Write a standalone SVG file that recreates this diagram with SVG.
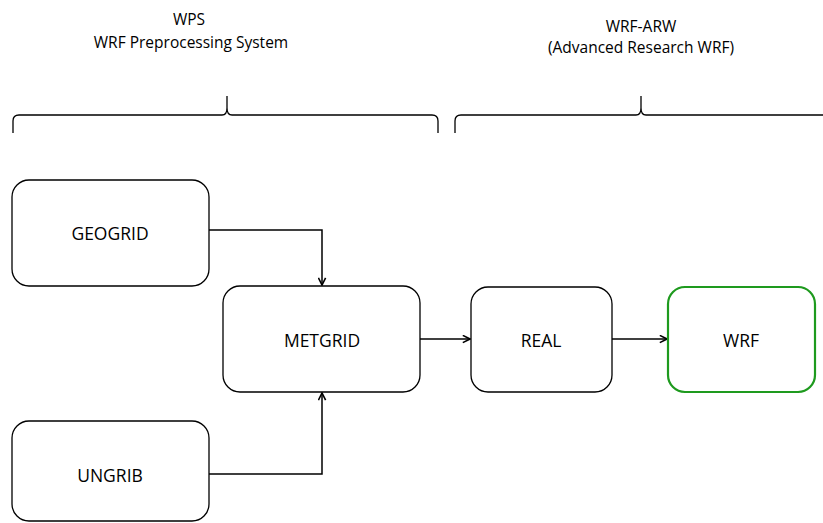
<svg xmlns="http://www.w3.org/2000/svg" width="823" height="523" viewBox="0 0 823 523">
<style>
.box{fill:#fff;stroke:#000;stroke-width:1.3}
.green{fill:#fff;stroke:#1e9a1e;stroke-width:2.2}
.lbl{font-family:"Open Sans","Liberation Sans",sans-serif;font-size:17.5px;fill:#000;text-anchor:middle;dominant-baseline:central}
.hdr{font-family:"Open Sans","Liberation Sans",sans-serif;font-size:15.5px;fill:#000;text-anchor:middle}
.line{fill:none;stroke:#000;stroke-width:1.5}
.brace{fill:none;stroke:#000;stroke-width:1.3}
</style>
<defs>
<marker id="arr" viewBox="0 0 10 10" refX="9" refY="5" markerWidth="9" markerHeight="9" markerUnits="userSpaceOnUse" orient="auto">
<path d="M1,1 L9,5 L1,9" fill="none" stroke="#000" stroke-width="1.8"/>
</marker>
</defs>
<g id="headers">
<text class="hdr" x="189" y="25">WPS</text>
<text class="hdr" x="191" y="48">WRF Preprocessing System</text>
<text class="hdr" x="641" y="32">WRF-ARW</text>
<text class="hdr" x="641" y="53">(Advanced Research WRF)</text>
</g>
<g id="braces">
<path class="brace" d="M13,133 L13,121 Q13,115 19,115 L222,115 Q227,115 227,108 L227,96 M227,108 Q227,115 232,115 L432,115 Q438,115 438,121 L438,133"/>
<path class="brace" d="M455,133 L455,121 Q455,115 461,115 L636,115 Q641,115 641,108 L641,96 M641,108 Q641,115 646,115 L823,115"/>
</g>
<g id="connectors">
<path class="line" d="M209,230 L322,230 L322,285" marker-end="url(#arr)"/>
<path class="line" d="M209,474 L322,474 L322,393" marker-end="url(#arr)"/>
<path class="line" d="M420,339 L470,339" marker-end="url(#arr)"/>
<path class="line" d="M612,339 L667,339" marker-end="url(#arr)"/>
</g>
<g id="geogrid">
<rect class="box" x="12" y="180" width="197" height="106" rx="17"/>
<text class="lbl" x="110" y="233">GEOGRID</text>
</g>
<g id="metgrid">
<rect class="box" x="223" y="286" width="197" height="106" rx="17"/>
<text class="lbl" x="322" y="340">METGRID</text>
</g>
<g id="real">
<rect class="box" x="471" y="287" width="141" height="105" rx="17"/>
<text class="lbl" x="541" y="340">REAL</text>
</g>
<g id="wrf">
<rect class="green" x="668" y="287" width="147" height="105" rx="17"/>
<text class="lbl" x="741" y="340">WRF</text>
</g>
<g id="ungrib">
<rect class="box" x="12" y="421" width="197" height="100" rx="17"/>
<text class="lbl" x="110" y="475">UNGRIB</text>
</g>
</svg>
